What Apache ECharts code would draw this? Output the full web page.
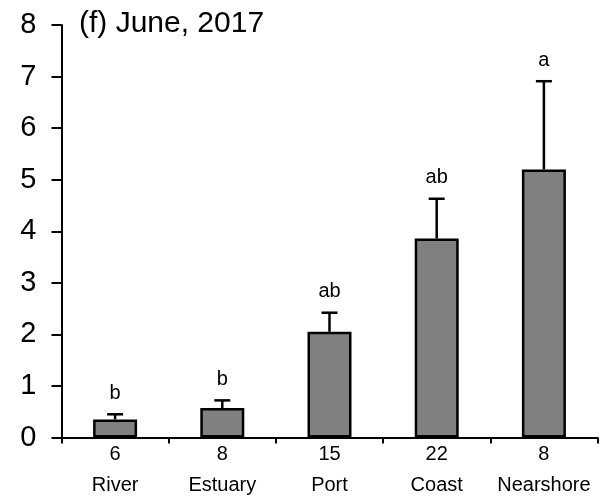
<!DOCTYPE html>
<html>
<head>
<meta charset="utf-8">
<script src="https://cdn.jsdelivr.net/npm/echarts@6/dist/echarts.min.js"></script>
<style>
  html, body { margin: 0; padding: 0; background: #fff; }
  #chart { width: 606px; height: 500px; }
</style>
</head>
<body>
<div id="chart"></div>
<script>
// Sites along the river-to-sea gradient, with sample sizes
const sites = ['River', 'Estuary', 'Port', 'Coast', 'Nearshore'];
const sampleSizes = [6, 8, 15, 22, 8];
// Mean values and standard errors per site
const means = [0.35, 0.57, 2.05, 3.86, 5.2];
const stdErrors = [0.1, 0.15, 0.37, 0.77, 1.71];
// Significance groupings
const groupLetters = ['b', 'b', 'ab', 'ab', 'a'];
const yTicks = [0, 1, 2, 3, 4, 5, 6, 7, 8];

const FONT = '"Liberation Sans", Arial, Helvetica, sans-serif';

const chart = echarts.init(document.getElementById('chart'), null, { renderer: 'canvas' });

const errorData = sites.map((s, i) => [i, means[i], means[i] + stdErrors[i], groupLetters[i]]);

chart.setOption({
  animation: false,
  backgroundColor: '#ffffff',
  title: {
    text: '(f) June, 2017',
    left: 79,
    top: 9,
    padding: 0,
    textStyle: { fontFamily: FONT, fontSize: 30, fontWeight: 'normal', color: '#000' }
  },
  grid: { left: 61.5, top: 25, width: 536, bottom: 62.5, containLabel: false },
  xAxis: {
    type: 'category',
    data: sites.map((s, i) => sampleSizes[i] + '\n' + s),
    boundaryGap: true,
    axisLine: { lineStyle: { color: '#000', width: 2 } },
    axisTick: { show: true, length: 6, alignWithLabel: false, lineStyle: { color: '#000', width: 2 } },
    axisLabel: {
      margin: 4,
      color: '#000',
      fontFamily: FONT,
      formatter: v => {
        const [n, name] = v.split('\n');
        return '{n|' + n + '}\n{s|' + name + '}';
      },
      rich: {
        n: { fontFamily: FONT, fontSize: 20, lineHeight: 26, color: '#000' },
        s: { fontFamily: FONT, fontSize: 20, lineHeight: 36, color: '#000' }
      }
    }
  },
  yAxis: {
    type: 'value',
    min: yTicks[0],
    max: yTicks[yTicks.length - 1],
    interval: 1,
    splitLine: { show: false },
    axisLine: { show: true, lineStyle: { color: '#000', width: 2 } },
    axisTick: { show: true, length: 10, inside: false, lineStyle: { color: '#000', width: 2 } },
    axisLabel: { margin: 25, color: '#000', fontFamily: FONT, fontSize: 29 }
  },
  series: [
    {
      type: 'bar',
      data: means,
      barWidth: 44,
      itemStyle: { color: '#808080', borderColor: '#000', borderWidth: 2.5 },
      z: 2
    },
    {
      type: 'custom',
      data: errorData,
      z: 3,
      renderItem: (params, api) => {
        const x = api.value(0);
        const base = api.coord([x, api.value(1)]);
        const top = api.coord([x, api.value(2)]);
        const capHalf = 8;
        return {
          type: 'group',
          children: [
            { type: 'line', shape: { x1: base[0], y1: base[1], x2: top[0], y2: top[1] },
              style: { stroke: '#000', lineWidth: 2.5 } },
            { type: 'line', shape: { x1: top[0] - capHalf, y1: top[1], x2: top[0] + capHalf, y2: top[1] },
              style: { stroke: '#000', lineWidth: 2.5 } },
            { type: 'text', x: top[0], y: top[1] - 11,
              style: { text: api.value(3), fill: '#000', font: '20px ' + FONT,
                       textAlign: 'center', textVerticalAlign: 'bottom' } }
          ]
        };
      }
    }
  ]
});
</script>
</body>
</html>
